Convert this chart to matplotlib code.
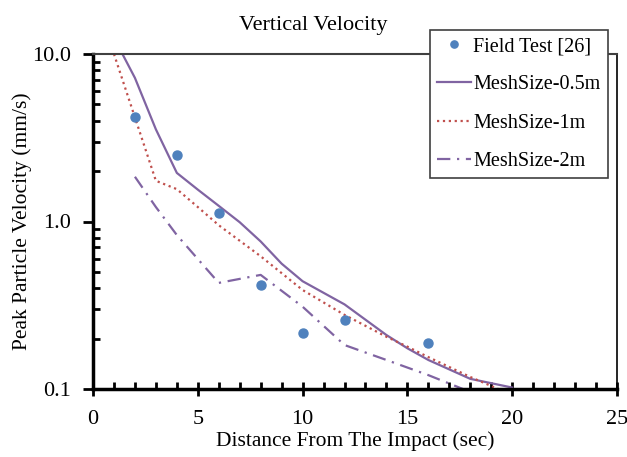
import matplotlib.pyplot as plt
from matplotlib.ticker import FixedLocator, FixedFormatter, MultipleLocator, LogLocator, NullFormatter

plt.rcParams['font.family'] = ['Liberation Serif', 'DejaVu Serif']

# field measurements
field_x = [2, 4, 6, 8, 10, 12, 16]
field_v = [4.2, 2.5, 1.13, 0.42, 0.215, 0.257, 0.189]

# simulations with three mesh sizes
mesh05_x = [1, 2, 3, 4, 5, 6, 7, 8, 9, 10, 12, 14, 15, 16, 18, 20]
mesh05_v = [12.5, 7.2, 3.55, 1.95, 1.55, 1.24, 0.99, 0.76, 0.56, 0.44, 0.32, 0.21, 0.175, 0.149, 0.115, 0.102]

mesh1_x = [1, 3, 4, 5, 6, 8, 10, 12, 14, 15, 16, 18, 20]
mesh1_v = [10.0, 1.75, 1.56, 1.22, 0.95, 0.62, 0.39, 0.277, 0.205, 0.179, 0.155, 0.118, 0.092]

mesh2_x = [2, 3, 4, 6, 8, 10, 12, 14, 16, 18]
mesh2_v = [1.85, 1.22, 0.83, 0.43, 0.48, 0.31, 0.183, 0.149, 0.121, 0.096]

fig = plt.figure(figsize=(6.27, 4.57), dpi=100)
ax = fig.add_axes([93 / 627, 1 - 389 / 457, 524 / 627, 335 / 457])

ax.plot(field_x, field_v, 'o', color='#4F81BD', markersize=6.5, label='Field Test [26]', zorder=5)
ax.plot(mesh05_x, mesh05_v, '-', color='#8064A2', lw=1.6, label='MeshSize-0.5m')
ax.plot(mesh1_x, mesh1_v, ':', color='#C0504D', lw=1.6, label='MeshSize-1m')
ax.plot(mesh2_x, mesh2_v, color='#8064A2', lw=1.6, dashes=(6, 3, 1, 3), label='MeshSize-2m')

ax.set_yscale('log')
ax.set_ylim(0.1, 10)
ax.set_xlim(0, 25)

ax.yaxis.set_major_locator(FixedLocator([0.1, 1, 10]))
ax.yaxis.set_major_formatter(FixedFormatter(['0.1', '1.0', '10.0']))
ax.yaxis.set_minor_locator(LogLocator(base=10, subs=range(2, 10)))
ax.yaxis.set_minor_formatter(NullFormatter())
ax.xaxis.set_major_locator(MultipleLocator(5))
ax.xaxis.set_minor_locator(MultipleLocator(1))

ax.tick_params(axis='y', which='major', direction='out', length=7, width=2, labelsize=16, pad=9)
ax.tick_params(axis='y', which='minor', direction='in', length=5, width=2)
ax.tick_params(axis='x', which='major', direction='inout', length=10, width=2, labelsize=16, pad=10)
ax.tick_params(axis='x', which='minor', direction='in', length=5, width=2)

ax.spines['left'].set_linewidth(2.5)
ax.spines['bottom'].set_linewidth(2.5)
ax.spines['top'].set_color('#404040')
ax.spines['top'].set_linewidth(1.5)
ax.spines['right'].set_linewidth(1.2)

ax.set_xlabel('Distance From The Impact (sec)', fontsize=15.5, labelpad=2)
ax.set_ylabel('Peak Particle Velocity (mm/s)', fontsize=15.5, labelpad=0)
fig.suptitle('Vertical Velocity', fontsize=16, x=0.5, y=0.965)

leg = fig.legend(loc='upper left', bbox_to_anchor=(430 / 627, 1 - 30 / 457), fontsize=14.5,
                 frameon=True, fancybox=False, edgecolor='#404040', framealpha=1,
                 handlelength=1.7, handletextpad=0.1, labelspacing=0.95,
                 borderpad=0.35, borderaxespad=0, markerscale=0.8)
leg.get_frame().set_linewidth(1.2)

fig.savefig('out.png', dpi=100)
